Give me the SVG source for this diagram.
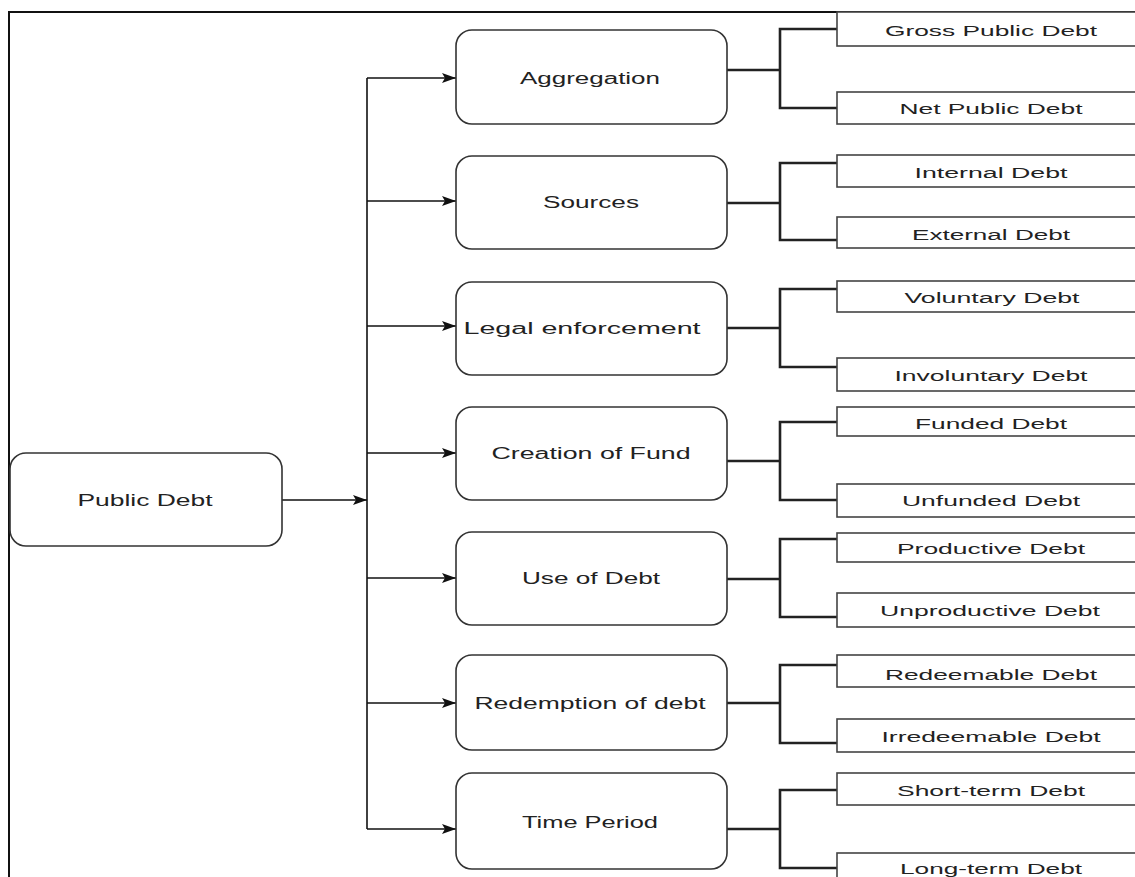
<svg xmlns="http://www.w3.org/2000/svg" width="1135" height="877" viewBox="0 0 1135 877">
<defs>
<style>
.node{fill:#fff;stroke:#333;stroke-width:1.6}
.leaf{fill:#fff;stroke:#444;stroke-width:1.6}
.t{font-family:"Liberation Sans",Arial,sans-serif;font-size:16px;fill:#222;text-anchor:middle;dominant-baseline:central}
.tl{font-family:"Liberation Sans",Arial,sans-serif;font-size:15.5px;fill:#222;text-anchor:middle;dominant-baseline:central}
.arr{fill:none;stroke:#111;stroke-width:1.6}
.br{fill:none;stroke:#222;stroke-width:2.6}
.frame{fill:none;stroke:#111;stroke-width:2}
</style>
<marker id="ah" viewBox="0 0 14 10" refX="14" refY="5" markerWidth="14" markerHeight="10" markerUnits="userSpaceOnUse" orient="auto">
<path d="M0,0 L14,5 L0,10 L3,5 Z" fill="#111"/>
</marker>
</defs>
<rect width="1135" height="877" fill="#fff"/>
<path class="frame" d="M9,877 V12 H1135"/>

<g id="connectors">
<path class="arr" d="M282,500 H367" marker-end="url(#ah)"/>
<path class="arr" d="M367,78 V829"/>
<path class="arr" d="M367,78 H456" marker-end="url(#ah)"/>
<path class="arr" d="M367,201 H456" marker-end="url(#ah)"/>
<path class="arr" d="M367,326 H456" marker-end="url(#ah)"/>
<path class="arr" d="M367,453 H456" marker-end="url(#ah)"/>
<path class="arr" d="M367,578 H456" marker-end="url(#ah)"/>
<path class="arr" d="M367,703 H456" marker-end="url(#ah)"/>
<path class="arr" d="M367,829 H456" marker-end="url(#ah)"/>
<path class="br" d="M727,70 H780 M837,29 H780 V108 H837"/>
<path class="br" d="M727,203 H780 M837,163 H780 V240 H837"/>
<path class="br" d="M727,328 H780 M837,289 H780 V367 H837"/>
<path class="br" d="M727,461 H780 M837,422 H780 V500 H837"/>
<path class="br" d="M727,579 H780 M837,539 H780 V617 H837"/>
<path class="br" d="M727,703 H780 M837,665 H780 V743 H837"/>
<path class="br" d="M727,829 H780 M837,790 H780 V868 H837"/>
</g>

<g id="public-debt"><rect class="node" x="10" y="453" width="272" height="93" rx="16"/><text class="t" x="145" y="500" textLength="135" lengthAdjust="spacingAndGlyphs">Public Debt</text></g>

<g id="aggregation"><rect class="node" x="456" y="30" width="271" height="94" rx="16"/><text class="t" x="590" y="78" textLength="140" lengthAdjust="spacingAndGlyphs">Aggregation</text></g>
<g id="sources"><rect class="node" x="456" y="156" width="271" height="93" rx="16"/><text class="t" x="591" y="202" textLength="96" lengthAdjust="spacingAndGlyphs">Sources</text></g>
<g id="legal"><rect class="node" x="456" y="282" width="271" height="93" rx="16"/><text class="t" x="582" y="328" textLength="237" lengthAdjust="spacingAndGlyphs">Legal enforcement</text></g>
<g id="creation"><rect class="node" x="456" y="407" width="271" height="93" rx="16"/><text class="t" x="591" y="453" textLength="199" lengthAdjust="spacingAndGlyphs">Creation of Fund</text></g>
<g id="use"><rect class="node" x="456" y="532" width="271" height="93" rx="16"/><text class="t" x="591" y="578" textLength="138" lengthAdjust="spacingAndGlyphs">Use of Debt</text></g>
<g id="redemption"><rect class="node" x="456" y="655" width="271" height="95" rx="16"/><text class="t" x="590" y="703" textLength="231" lengthAdjust="spacingAndGlyphs">Redemption of debt</text></g>
<g id="time"><rect class="node" x="456" y="773" width="271" height="96" rx="16"/><text class="t" x="590" y="822" textLength="136" lengthAdjust="spacingAndGlyphs">Time Period</text></g>

<g id="gross"><rect class="leaf" x="837" y="12" width="310" height="34"/><text class="tl" x="991" y="30" textLength="212" lengthAdjust="spacingAndGlyphs">Gross Public Debt</text></g>
<g id="net"><rect class="leaf" x="837" y="92" width="310" height="32"/><text class="tl" x="991" y="108" textLength="183" lengthAdjust="spacingAndGlyphs">Net Public Debt</text></g>
<g id="internal"><rect class="leaf" x="837" y="155" width="310" height="32"/><text class="tl" x="991" y="172" textLength="153" lengthAdjust="spacingAndGlyphs">Internal Debt</text></g>
<g id="external"><rect class="leaf" x="837" y="217" width="310" height="31"/><text class="tl" x="991" y="234" textLength="158" lengthAdjust="spacingAndGlyphs">External Debt</text></g>
<g id="voluntary"><rect class="leaf" x="837" y="281" width="310" height="31"/><text class="tl" x="992" y="297" textLength="175" lengthAdjust="spacingAndGlyphs">Voluntary Debt</text></g>
<g id="involuntary"><rect class="leaf" x="837" y="358" width="310" height="33"/><text class="tl" x="991" y="375" textLength="193" lengthAdjust="spacingAndGlyphs">Involuntary Debt</text></g>
<g id="funded"><rect class="leaf" x="837" y="407" width="310" height="29"/><text class="tl" x="991" y="423" textLength="152" lengthAdjust="spacingAndGlyphs">Funded Debt</text></g>
<g id="unfunded"><rect class="leaf" x="837" y="484" width="310" height="33"/><text class="tl" x="991" y="500" textLength="178" lengthAdjust="spacingAndGlyphs">Unfunded Debt</text></g>
<g id="productive"><rect class="leaf" x="837" y="533" width="310" height="29"/><text class="tl" x="991" y="548" textLength="188" lengthAdjust="spacingAndGlyphs">Productive Debt</text></g>
<g id="unproductive"><rect class="leaf" x="837" y="593" width="310" height="34"/><text class="tl" x="990" y="610" textLength="220" lengthAdjust="spacingAndGlyphs">Unproductive Debt</text></g>
<g id="redeemable"><rect class="leaf" x="837" y="655" width="310" height="32"/><text class="tl" x="991" y="674" textLength="212" lengthAdjust="spacingAndGlyphs">Redeemable Debt</text></g>
<g id="irredeemable"><rect class="leaf" x="837" y="719" width="310" height="33"/><text class="tl" x="991" y="736" textLength="219" lengthAdjust="spacingAndGlyphs">Irredeemable Debt</text></g>
<g id="short"><rect class="leaf" x="837" y="773" width="310" height="32"/><text class="tl" x="991" y="790" textLength="188" lengthAdjust="spacingAndGlyphs">Short-term Debt</text></g>
<g id="long"><rect class="leaf" x="837" y="853" width="310" height="40"/><text class="tl" x="991" y="868" textLength="182" lengthAdjust="spacingAndGlyphs">Long-term Debt</text></g>
</svg>
